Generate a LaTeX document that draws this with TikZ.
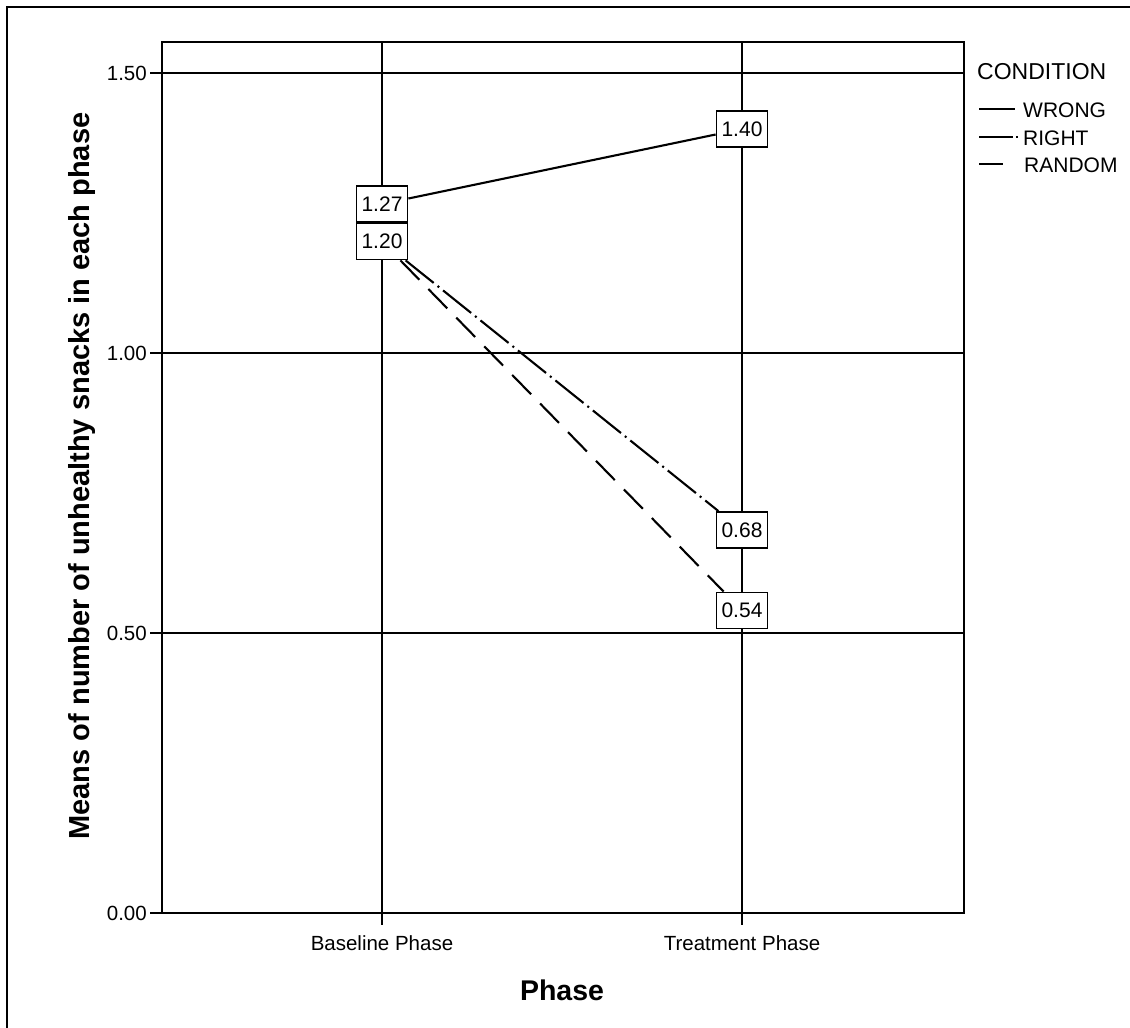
\documentclass[tikz,border=0pt]{standalone}
\usepackage{fontspec}
\setmainfont{Liberation Sans}
\begin{document}
\begin{tikzpicture}[x=1pt,y=-1pt,
  frame/.style={line width=2.4pt},
  grid/.style={line width=1.8pt},
  tick/.style={line width=1.8pt},
  series/.style={line width=2.1pt},
  wrongline/.style={series},
  rightline/.style={series,dash pattern=on 36pt off 5pt on 2pt off 5pt},
  randomline/.style={series,dash pattern=on 27pt off 13pt},
  valbox/.style={draw,fill=white,line width=1.8pt,minimum width=51pt,minimum height=36pt,inner sep=0pt,font=\fontsize{21}{22}\selectfont},
  ticklab/.style={font=\fontsize{20.5}{22}\selectfont,inner sep=0pt},
  legtext/.style={font=\fontsize{21}{22}\selectfont,anchor=west,inner sep=0pt},
]
\useasboundingbox (0,0) rectangle (1130,1028);
\fill[white] (0,0) rectangle (1130,1028);

% outer border (top and left)
\draw[frame] (7,1028) -- (7,7) -- (1130,7);

% grid lines
\foreach \yy in {73,353,633} \draw[grid] (162,\yy) -- (964,\yy);
\foreach \xx in {382,742} \draw[grid] (\xx,42) -- (\xx,913);

% plot frame
\draw[frame] (162,42) rectangle (964,913);

% y axis ticks and labels
\foreach \yy/\lab in {73/1.50,353/1.00,633/0.50,913/0.00}{
  \draw[tick] (150,\yy) -- (162,\yy);
  \node[ticklab,anchor=east] at (147,\yy) {\lab};
}
% x axis ticks and labels
\draw[tick] (382,913) -- (382,925);
\draw[tick] (742,913) -- (742,925);
\node[ticklab] (xb) at (382,943) {Baseline Phase};
\node[ticklab] (xt) at (742,943) {Treatment Phase};

% axis titles
\node[font=\bfseries\fontsize{28.5}{30}\selectfont,inner sep=0pt] (xtitle) at (562,990) {Phase};
\node[font=\bfseries\fontsize{29}{30}\selectfont,inner sep=0pt,rotate=90] (ytitle) at (82,476) {Means of number of unhealthy snacks in each phase};

% value labels
\node[valbox] (b127) at (382,204) {1.27};
\node[valbox] (b120) at (382,241.5) {1.20};
\node[valbox] (t140) at (742,129) {1.40};
\node[valbox] (t068) at (742,530) {0.68};
\node[valbox] (t054) at (742,610.5) {0.54};

% series lines
\draw[wrongline] (b127) -- (t140);
\draw[rightline] (b120) -- (t068);
\draw[randomline] (b120) -- (t054);

% legend
\node[font=\fontsize{23}{24}\selectfont,anchor=west,inner sep=0pt] (legtitle) at (977,72) {CONDITION};
\coordinate (lw1) at (979,109); \coordinate (lw2) at (1015,109);
\coordinate (lr1) at (979,137); \coordinate (lr2) at (1018,137);
\coordinate (ld1) at (979,164); \coordinate (ld2) at (1003,164);
\draw[wrongline] (lw1) -- (lw2);
\draw[series,dash pattern=on 34pt off 3pt on 2pt off 5pt] (lr1) -- (lr2);
\draw[series] (ld1) -- (ld2);
\node[legtext] (lwrong) at (1023,110) {WRONG};
\node[legtext] (lright) at (1023,138) {RIGHT};
\node[legtext] (lrandom) at (1024,165) {RANDOM};
\end{tikzpicture}
\end{document}
